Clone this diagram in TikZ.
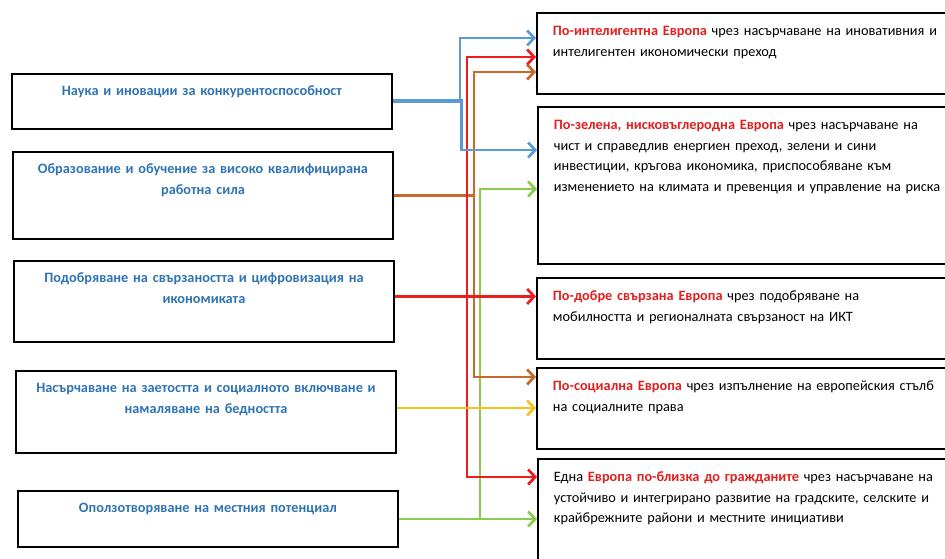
\documentclass[tikz,border=0pt]{standalone}
\usepackage{fontspec}
\setmainfont{Carlito}
\usetikzlibrary{arrows.meta}
\definecolor{tblue}{HTML}{2E74B5}
\definecolor{tred}{HTML}{E0201E}
\definecolor{lblue}{HTML}{5B9BD5}
\definecolor{lred}{HTML}{EE1C1C}
\definecolor{lorange}{HTML}{C8692B}
\definecolor{lgreen}{HTML}{8DCB4F}
\definecolor{lyellow}{HTML}{F8C21A}
\newcommand{\eu}[1]{\textcolor{tred}{\textbf{#1}}}
\tikzset{
  lbox/.style={draw, line width=1.9pt, anchor=north west, text width=360pt, inner xsep=10pt, inner ysep=0pt,
    text height=22pt, align=center, text=tblue, font=\fontsize{14.3pt}{20.5pt}\selectfont\bfseries},
  rbox/.style={draw, line width=1.9pt, anchor=north west, text width=418pt, inner xsep=16pt, inner ysep=0pt,
    text height=23pt, align=left, font=\fontsize{14.3pt}{20.5pt}\selectfont},
  link/.style={line width=2.7pt, -{Straight Barb[length=7pt,width=15pt]}}
}
\begin{document}
\begin{tikzpicture}[x=1pt, y=-1pt]
  \useasboundingbox (0,0) rectangle (945,558);
  \clip (0,0) rectangle (945,558);
  \node[lbox, text depth=33pt] (L1) at (11,73) {Наука и иновации за конкурентоспособност};
  \node[lbox, text depth=65pt] (L2) at (12,151) {Образование и обучение за високо квалифицирана\\ работна сила};
  \node[lbox, text depth=59pt] (L3) at (13,260) {Подобряване на свързаността и цифровизация на\\ икономиката};
  \node[lbox, text depth=60pt] (L4) at (15,370) {Насърчаване на заетостта и социалното включване и\\ намаляване на бедността};
  \node[lbox, text depth=34pt] (L5) at (17,490) {Оползотворяване на местния потенциал};
  \node[rbox, text depth=58pt] (R1) at (536,12) {\eu{По-интелигентна Европа} чрез насърчаване на иновативния и\\ интелигентен икономически преход};
  \node[rbox, text depth=134pt] (R2) at (537,106) {\eu{По-зелена, нисковъглеродна Европа} чрез насърчаване на\\ чист и справедлив енергиен преход, зелени и сини\\ инвестиции, кръгова икономика, приспособяване към\\ изменението на климата и превенция и управление на риска};
  \node[rbox, text depth=58pt] (R3) at (536,277) {\eu{По-добре свързана Европа} чрез подобряване на\\ мобилността и регионалната свързаност на ИКТ};
  \node[rbox, text depth=58pt] (R4) at (536,367) {\eu{По-социална Европа} чрез изпълнение на европейския стълб\\ на социалните права};
  \node[rbox, text depth=100pt] (R5) at (537,458) {Една \eu{Европа по-близка до гражданите} чрез насърчаване на\\ устойчиво и интегрирано развитие на градските, селските и\\ крайбрежните райони и местните инициативи};
  \coordinate (xblue) at (460,0);
  \coordinate (xred) at (467,0);
  \coordinate (xorange) at (474,0);
  \coordinate (xgreen) at (480,0);
  \draw[link, lgreen] (L5.east) -| (xgreen |- 0,189) -- (R2.west |- 0,189);
  \draw[link, lgreen] (L5.east) -- (L5.east -| R5.west);
  \draw[link, lorange] (L2.east) -| (xorange |- 0,72) -- (R1.west |- 0,72);
  \draw[link, lorange] (L2.east) -| (xorange |- 0,377) -- (R4.west |- 0,377);
  \draw[link, lred] ([yshift=5pt]L3.east) -| (xred |- 0,57) -- (R1.west |- 0,57);
  \draw[link, lred] ([yshift=5pt]L3.east) -| (xred |- 0,477) -- (R5.west |- 0,477);
  \draw[link, lred] ([yshift=5pt]L3.east) -- ([yshift=5pt]L3.east -| R3.west);
  \draw[link, lyellow] ([yshift=4pt]L4.east) -- ([yshift=4pt]L4.east -| R4.west);
  \draw[link, lblue] (L1.east) -| (xblue |- 0,38) -- (R1.west |- 0,38);
  \draw[link, lblue] ([yshift=1.5pt]L1.east) -| ([xshift=1.5pt]xblue |- 0,150) -- (R2.west |- 0,150);
\end{tikzpicture}
\end{document}
